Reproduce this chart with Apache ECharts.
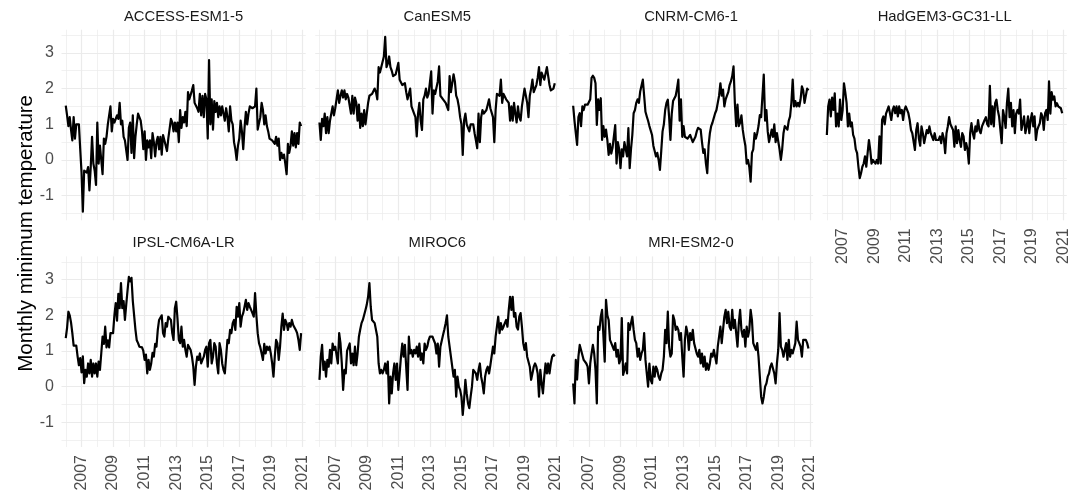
<!DOCTYPE html>
<html>
<head>
<meta charset="utf-8">
<title>Monthly minimum temperature by model</title>
<script src="https://cdn.jsdelivr.net/npm/echarts@6/dist/echarts.min.js"></script>
<style>
  html, body { margin: 0; padding: 0; background: #ffffff; }
  #chart { width: 1071px; height: 497px; }
</style>
</head>
<body>
<div id="chart"></div>
<script>
// Model names, one facet each (reading order, 4 facets per row)
const models = ['ACCESS-ESM1-5', 'CanESM5', 'CNRM-CM6-1', 'HadGEM3-GC31-LL',
                'IPSL-CM6A-LR', 'MIROC6', 'MRI-ESM2-0'];

// Monthly series start in January of this year
const firstYear = 2006;

// Tick values
const xMajorTicks = [2007, 2009, 2011, 2013, 2015, 2017, 2019, 2021];
const xMinorTicks = [2006, 2008, 2010, 2012, 2014, 2016, 2018, 2020];
const yMajorTicks = [-1, 0, 1, 2, 3];
const yMinorTicks = [-1.5, -0.5, 0.5, 1.5, 2.5, 3.5];

// Monthly minimum temperature, Jan 2006 .. Dec 2020 (one row per year)
const accessEsm15 = [
  1.52, 1.25, 0.95, 1.2, 0.85, 0.55, 1.2, 0.6, 1.0, 0.95, 1.0, 0.3,
  -0.35, -1.45, -0.3, -0.25, -0.35, -0.2, -0.85, -0.2, 0.65, -0.1, -0.3, -0.7,
  1.05, -0.1, 0.4, 0.35, -0.4, 0.6, 0.45, 0.65, 1.0, 1.25, 1.5, 0.8,
  1.15, 1.05, 1.1, 1.25, 1.15, 1.6, 1.0, 1.1, 0.65, 0.55, 0.5, 0.0,
  0.9, 1.05, 0.2, 1.25, 0.05, 0.65, 1.0, 1.3, 1.35, 1.1, 0.8, 0.3,
  0.8, 0.0, 0.55, 0.35, 0.55, 0.05, 0.75, 0.5, 0.1, 0.5, 0.65, 0.3,
  0.65, 0.15, 0.7, 0.55, 0.6, 0.25, 0.6, 0.6, 1.15, 1.05, 0.8, 1.05,
  0.8, 1.05, 0.5, 1.4, 0.9, 1.2, 1.05, 1.35, 0.95, 1.9, 1.7, 1.75,
  1.95, 2.1, 1.6, 1.55, 1.45, 1.35, 1.85, 1.25, 1.8, 1.2, 1.85, 1.7,
  0.6, 2.8, 1.0, 1.7, 0.85, 1.65, 1.35, 1.6, 1.2, 1.5, 1.25, 1.5,
  1.5, 1.1, 1.45, 1.2, 0.8, 1.5, 1.1, 1.0, 0.5, 0.3, 0.0, 0.4,
  0.6, 1.1, 0.8, 0.3, 0.9, 1.35, 1.0, 1.3, 1.5, 1.5, 1.45, 1.4,
  1.5, 2.0, 0.85, 0.9, 1.2, 1.6, 1.4, 1.0, 1.25, 0.95, 0.8, 0.6,
  0.6, 0.55, 0.6, 0.45, 0.65, 0.4, 0.6, 0.0, 0.2, 0.05, 0.15, -0.1,
  -0.4, 0.45, 0.2, 0.4, 0.8, 0.4, 0.75, 0.35, 0.75, 0.45, 1.05, 0.95
];
const canEsm5 = [
  1.05, 0.56, 1.15, 0.95, 1.3, 0.75, 1.2, 0.75, 1.1, 1.15, 1.5, 1.25,
  1.45, 1.7, 1.95, 1.6, 1.8, 1.95, 1.75, 1.95, 1.7, 1.85, 1.75, 1.7,
  1.3, 1.8, 1.3, 1.75, 1.6, 1.1, 1.55, 0.9, 1.3, 0.95, 1.4, 1.0,
  1.0, 1.6, 1.8, 1.75, 1.85, 1.8, 2.0, 1.9, 1.7, 2.6, 2.45, 2.6,
  2.6, 2.9, 3.45, 2.6, 2.7, 2.9, 2.6, 2.5, 2.35, 2.3, 2.4, 2.45,
  2.72, 2.25, 2.2, 2.1, 2.05, 2.15, 1.9, 1.7, 1.85, 2.0, 1.5, 1.55,
  1.3, 1.2, 0.66, 1.3, 1.6, 1.1, 0.84, 1.7, 1.8, 2.0, 1.75, 1.85,
  1.9, 2.48, 1.3, 1.95, 1.85, 1.9, 2.2, 2.62, 1.8, 1.75, 1.7, 1.65,
  1.6, 1.55, 1.4, 2.35, 1.9, 1.85, 2.4, 2.2, 1.8, 1.7, 1.5, 1.2,
  1.0, 0.14, 1.1, 1.3, 1.0, 0.9, 0.8, 1.0, 1.05, 1.0, 0.75, 0.55,
  0.33, 1.3, 0.5, 1.2, 1.4, 1.3, 1.35, 1.4, 1.55, 1.7, 1.45, 1.4,
  1.2, 0.5, 1.4, 1.85, 1.85, 1.8, 2.25, 1.6, 1.85, 1.9, 1.7, 1.75,
  1.6, 1.1, 1.5, 1.1, 1.6, 1.3, 1.05, 1.5, 1.2, 1.1, 1.5, 1.55,
  2.0, 1.8, 1.6, 1.2, 1.8, 2.0, 2.25, 1.9, 1.85, 2.1, 2.3, 2.6,
  2.1, 2.45, 2.5, 2.25, 2.3, 2.6, 2.35, 2.1, 1.95, 1.95, 2.0, 2.15
];
const cnrmCm61 = [
  1.52, 1.1, 0.75, 0.42, 1.2, 1.31, 0.95, 1.5, 1.4, 1.55, 1.5, 1.55,
  1.6, 1.7, 2.3, 2.36, 2.3, 2.15, 0.98, 1.7, 1.4, 1.73, 0.56, 0.95,
  0.65, 0.85, 0.56, 0.14, 0.45, 0.18, 0.35, 0.4, 0.98, -0.1, 0.5, 0.3,
  -0.23, 0.3, 0.1, 0.5, 0.55, 0.1, 0.89, -0.23, 0.3, 0.7, 1.31, 1.4,
  1.6, 1.7, 1.6, 1.92, 1.95, 2.25, 1.8, 1.35, 1.22, 1.1, 0.95, 0.9,
  0.7, 0.4, 0.25, 0.1, 0.2, 0.0, -0.28, 0.25, 0.8, 1.0, 1.4, 1.6,
  1.69, 1.2, 0.56, 1.3, 1.65, 1.7, 1.8, 2.0, 2.25, 1.1, 1.7, 0.65,
  0.95, 0.65, 0.6, 0.6, 0.65, 0.7, 0.6, 0.5, 0.55, 0.65, 0.8, 0.9,
  0.95, 0.85, 0.5, 0.2, 0.3, -0.1, -0.37, 0.4, 0.75, 0.95, 1.05, 1.1,
  1.31, 1.4, 1.6, 1.8, 2.15, 1.8, 1.97, 1.5, 1.7, 1.8, 1.9, 2.1,
  2.2, 2.35, 2.62, 1.6, 0.95, 1.55, 0.95, 1.05, 1.25, 0.85, 0.6, 0.4,
  -0.1, 0.0, -0.2, -0.61, 0.2, 0.3, 0.75, 0.6, 0.75, 0.95, 1.26, 1.2,
  1.2, 2.39, 1.1, 1.4, 0.8, 0.5, 0.45, 0.85, 0.65, 1.0, 0.5, 0.75,
  0.8, 0.3, 0.0, 0.3, 0.75, 0.95, 0.9, 0.85, 1.1, 1.22, 1.6, 2.25,
  1.5, 1.65, 1.5, 1.6, 1.5, 1.7, 2.06, 1.95, 1.6, 1.65, 2.0, 1.95
];
const hadGem3Gc31Ll = [
  0.7, 1.5, 1.69, 1.22, 1.75, 1.4, 1.87, 0.94, 1.3, 0.94, 1.69, 1.12,
  1.4, 2.15, 1.9, 1.6, 0.94, 1.3, 0.94, 1.05, 0.7, 0.6, 0.3, 0.19,
  -0.19, -0.51, -0.37, -0.19, -0.1, 0.1, -0.19, 0.19, 0.56, 0.28, -0.1, 0.0,
  -0.05, -0.1, 0.0, -0.1, 0.66, -0.1, 1.12, 1.22, 1.0, 1.3, 1.4, 1.5,
  1.31, 1.12, 1.4, 1.5, 1.31, 1.5, 1.22, 1.5, 1.31, 1.4, 1.12, 1.4,
  1.5, 1.55, 1.31, 1.12, 0.84, 0.75, 0.75, 0.28, 0.84, 1.03, 0.6, 0.4,
  0.94, 0.75, 0.47, 0.5, 0.84, 0.75, 0.94, 0.75, 0.75, 0.56, 0.75, 0.56,
  0.56, 0.56, 0.66, 0.47, 0.75, 0.6, 0.19, 0.75, 0.94, 1.2, 1.0, 1.03,
  0.84, 0.37, 0.94, 0.47, 0.84, 0.56, 0.37, 0.75, 0.66, 0.28, 0.47, 0.3,
  -0.1, 0.75, 1.03, 0.75, 0.6, 0.94, 0.8, 1.12, 0.84, 0.75, 0.94, 1.03,
  1.12, 1.2, 1.0, 0.94, 2.08, 1.0, 1.5, 0.94, 1.59, 1.69, 1.4, 1.22,
  0.84, 0.47, 1.4, 1.2, 0.9, 1.6, 2.0, 1.2, 1.6, 0.94, 1.4, 0.75,
  1.3, 1.4, 1.3, 1.69, 0.84, 1.03, 1.22, 0.75, 0.94, 1.22, 0.75, 1.12,
  1.31, 0.94, 1.22, 0.56, 0.84, 0.94, 1.03, 1.31, 1.22, 0.84, 1.31, 1.4,
  1.12, 2.2, 1.3, 1.9, 1.69, 1.78, 1.5, 1.59, 1.5, 1.5, 1.45, 1.31
];
const ipslCm6aLr = [
  1.36, 1.65, 2.1, 2.0, 1.8, 1.5, 1.15, 1.12, 1.15, 0.85, 0.6, 0.8,
  0.4, 0.85, 0.1, 0.47, 0.28, 0.65, 0.37, 0.75, 0.28, 0.65, 0.37, 0.65,
  0.28, 0.7, 0.47, 0.93, 1.4, 1.2, 1.68, 1.1, 1.3, 1.1, 1.5, 1.55,
  1.5, 2.0, 2.34, 1.85, 2.6, 2.2, 2.9, 2.2, 2.4, 1.87, 2.3, 2.7,
  3.08, 2.95, 3.05, 2.4, 2.0, 1.6, 1.3, 1.22, 1.12, 1.17, 1.1, 1.0,
  0.75, 0.9, 0.37, 0.75, 0.47, 0.65, 0.95, 0.84, 1.2, 1.12, 1.59, 1.87,
  1.87, 2.0, 1.5, 1.4, 1.78, 1.68, 1.96, 2.0, 1.87, 1.5, 1.31, 2.2,
  2.38, 1.9, 1.31, 1.22, 1.68, 1.12, 1.31, 1.03, 0.84, 1.17, 1.12, 1.03,
  0.84, 0.56, 0.05, 0.56, 0.84, 0.75, 0.93, 0.65, 0.75, 0.84, 1.03, 1.12,
  0.56, 1.22, 1.31, 0.65, 0.84, 1.22, 1.12, 0.65, 0.37, 1.22, 1.03, 0.65,
  0.47, 0.37, 0.84, 1.31, 1.22, 1.59, 1.5, 1.78, 1.87, 1.59, 2.24, 1.96,
  2.34, 1.68, 1.96, 2.06, 2.24, 2.43, 2.15, 2.34, 2.24, 2.15, 2.06, 1.96,
  2.62, 2.0, 1.5, 1.22, 1.1, 0.93, 0.75, 1.2, 0.93, 1.12, 1.03, 1.12,
  0.93, 0.65, 0.28, 0.84, 1.31, 1.22, 0.75, 1.12, 1.68, 2.05, 1.59, 1.87,
  1.78, 1.59, 1.78, 1.68, 1.87, 1.73, 1.78, 1.59, 1.5, 1.31, 1.03, 1.5
];
const miroc6 = [
  0.19, 0.84, 1.17, 0.47, 0.7, 0.28, 0.75, 0.56, 1.03, 0.65, 1.21, 1.03,
  1.12, 1.12, 0.65, 1.5, 1.21, 0.65, -0.09, 0.47, 0.37, 1.0, 1.05, 1.21,
  0.65, 0.93, 0.6, 1.12, 0.6, 0.93, 1.4, 1.6, 1.78, 1.87, 1.92, 2.15,
  2.3, 2.52, 2.9, 2.24, 1.87, 1.87, 1.78, 1.82, 1.4, 0.65, 0.37, 0.47,
  0.37, 0.47, 0.65, 0.37, 0.7, -0.47, 0.28, -0.19, 0.37, 0.65, 0.19, 0.65,
  -0.09, 0.37, 0.84, 1.21, 0.84, 1.17, 1.21, -0.09, 1.4, 0.93, 1.03, 0.84,
  1.03, 0.93, 1.12, 0.84, 1.21, 0.75, 0.93, 0.65, 1.21, 1.03, 1.12, 1.3,
  1.4, 1.45, 1.4, 1.3, 1.21, 0.93, 1.21, 0.56, 1.12, 1.17, 1.45, 1.6,
  1.78, 2.0, 1.4, 1.12, 0.84, 0.56, 0.28, 0.47, -0.28, 0.28, 0.0, -0.09,
  -0.28, -0.79, -0.37, 0.19, -0.19, -0.47, -0.6, -0.28, 0.0, 0.47, 0.5, 0.37,
  0.19, 0.47, 0.65, 0.28, 0.09, -0.19, 0.28, 0.47, 0.56, 0.37, 0.6, 0.65,
  1.12, 0.93, 1.4, 1.68, 1.96, 1.5, 1.78, 1.6, 1.68, 1.78, 1.87, 1.68,
  2.15, 2.52, 2.15, 2.52, 1.96, 2.06, 1.68, 1.6, 1.96, 2.06, 1.68, 1.22,
  1.03, 1.22, 0.84, 0.84, 0.56, 0.19, 0.37, 0.56, 0.65, 0.56, 0.37, -0.28,
  0.47, 0.09, -0.19, 0.28, 0.65, 0.37, 0.65, 0.37, 0.65, 0.84, 0.9, 0.85
];
const mriEsm20 = [
  0.09, -0.47, 0.75, 0.2, 0.84, 1.17, 1.03, 1.07, 0.75, 0.7, 0.65, 0.56,
  0.09, 0.65, 0.93, 1.17, 0.93, 0.47, -0.47, 1.68, 1.59, 1.96, 2.15, 2.2,
  0.7, 2.43, 2.0, 1.87, 1.31, 1.22, 1.22, 1.03, 1.22, 0.84, 1.03, 0.65,
  0.75, 1.92, 0.33, 0.47, 0.65, 0.37, 1.78, 1.59, 1.78, 1.96, 1.59, 1.31,
  1.22, 0.84, 1.07, 0.75, 0.93, 1.03, 1.5, 0.75, 0.37, 0.0, 0.65, 0.19,
  0.09, 0.56, 0.28, 0.56, 0.47, 0.28, 0.19, 0.37, 0.47, 0.84, 1.59, 1.22,
  2.1, 1.12, 0.84, 0.93, 2.0, 1.87, 1.59, 1.68, 1.59, 1.31, 1.5, 0.84,
  0.28, 1.31, 1.68, 1.5, 1.03, 1.5, 1.31, 1.59, 1.22, 1.22, 0.93, 0.84,
  1.03, 0.65, 0.93, 0.56, 0.84, 0.47, 0.65, 0.47, 0.65, 0.93, 0.84, 1.03,
  1.03, 0.65, 1.12, 1.12, 1.68, 1.22, 1.59, 1.96, 2.15, 1.78, 2.1, 1.68,
  1.59, 2.15, 1.64, 1.87, 1.5, 1.12, 1.78, 2.15, 1.59, 1.4, 1.59, 1.12,
  1.68, 1.4, 1.59, 2.15, 1.87, 1.22, 1.12, 1.03, 1.22, 0.84, 0.28, -0.28,
  -0.47, -0.28, 0.0, 0.09, 0.28, 0.37, 0.56, 0.65, 0.7, 0.37, 0.09, 0.65,
  1.03, 2.06, 1.12, 1.03, 0.84, 1.03, 1.22, 0.75, 1.31, 0.84, 1.03, 0.93,
  0.93, 1.22, 1.82, 1.31, 1.22, 1.12, 0.84, 1.31, 1.35, 1.31, 1.22, 1.07
];

const modelValues = [accessEsm15, canEsm5, cnrmCm61, hadGem3Gc31Ll,
                     ipslCm6aLr, miroc6, mriEsm20];

// ---- layout of the facet grid ----
const FONT = '"Liberation Sans", Arial, Helvetica, sans-serif';
const X_MIN = 2005.73, X_MAX = 2021.21;
const Y_MIN = -1.69, Y_MAX = 3.65;
const COLS = 4;
const PANEL_LEFT = 61.5, PANEL_W = 244.2, COL_STEP = 253.7;
const ROW_TOPS = [29.7, 256.4], PANEL_H = 190.6;
const GRID_COLOR = '#ebebeb';

// panels that carry x tick labels (bottom facet of each column)
const labelledX = new Set([3, 4, 5, 6]);

const grids = [], xAxes = [], yAxes = [], series = [], graphics = [];

models.forEach((name, i) => {
  const col = i % COLS, row = Math.floor(i / COLS);
  const left = PANEL_LEFT + col * COL_STEP;
  const top = ROW_TOPS[row];
  grids.push({ left, top, width: PANEL_W, height: PANEL_H,
               containLabel: false, outerBoundsMode: 'none' });

  // major x grid lines and labels
  xAxes.push({
    type: 'value', gridIndex: i, position: 'bottom', min: X_MIN, max: X_MAX,
    axisLine: { show: false },
    axisTick: { show: false, customValues: xMajorTicks },
    splitLine: { show: true, lineStyle: { color: GRID_COLOR, width: 1.2 } },
    axisLabel: {
      show: labelledX.has(i), customValues: xMajorTicks, rotate: 90, margin: 8,
      fontFamily: FONT, fontSize: 16, color: '#4d4d4d',
      formatter: v => String(Math.round(v))
    }
  });
  // minor x grid lines
  xAxes.push({
    type: 'value', gridIndex: i, position: 'top', min: X_MIN, max: X_MAX,
    axisLine: { show: false },
    axisTick: { show: false, customValues: xMinorTicks },
    splitLine: { show: true, lineStyle: { color: GRID_COLOR, width: 0.7 } },
    axisLabel: { show: false }
  });
  // major y grid lines and labels
  yAxes.push({
    type: 'value', gridIndex: i, position: 'left', min: Y_MIN, max: Y_MAX,
    axisLine: { show: false },
    axisTick: { show: false, customValues: yMajorTicks },
    splitLine: { show: true, lineStyle: { color: GRID_COLOR, width: 1.2 } },
    axisLabel: {
      show: col === 0, customValues: yMajorTicks, margin: 7.5,
      fontFamily: FONT, fontSize: 16, color: '#4d4d4d',
      formatter: v => String(Math.round(v))
    }
  });
  // minor y grid lines
  yAxes.push({
    type: 'value', gridIndex: i, position: 'right', min: Y_MIN, max: Y_MAX,
    axisLine: { show: false },
    axisTick: { show: false, customValues: yMinorTicks },
    splitLine: { show: true, lineStyle: { color: GRID_COLOR, width: 0.7 } },
    axisLabel: { show: false }
  });

  series.push({
    type: 'line', name, xAxisIndex: 2 * i, yAxisIndex: 2 * i,
    showSymbol: false, symbol: 'none', silent: true, animation: false,
    lineStyle: { color: '#000000', width: 2.2, join: 'round' },
    data: modelValues[i].map((v, m) => [firstYear + m / 12, v])
  });

  // facet strip title
  graphics.push({
    type: 'text', x: left + PANEL_W / 2, y: top - 13.1,
    style: { text: name, fill: '#1a1a1a', font: '14.8px ' + FONT,
             textAlign: 'center', textVerticalAlign: 'middle' }
  });
});

// shared y-axis title
graphics.push({
  type: 'text', x: 26, y: 233.4, rotation: Math.PI / 2,
  style: { text: 'Monthly minimum temperature', fill: '#000000',
           font: '20.5px ' + FONT, textAlign: 'center', textVerticalAlign: 'middle' }
});

const chart = echarts.init(document.getElementById('chart'), null, { renderer: 'canvas' });
chart.setOption({
  animation: false,
  backgroundColor: '#ffffff',
  grid: grids,
  xAxis: xAxes,
  yAxis: yAxes,
  series,
  graphic: graphics
});
</script>
</body>
</html>
